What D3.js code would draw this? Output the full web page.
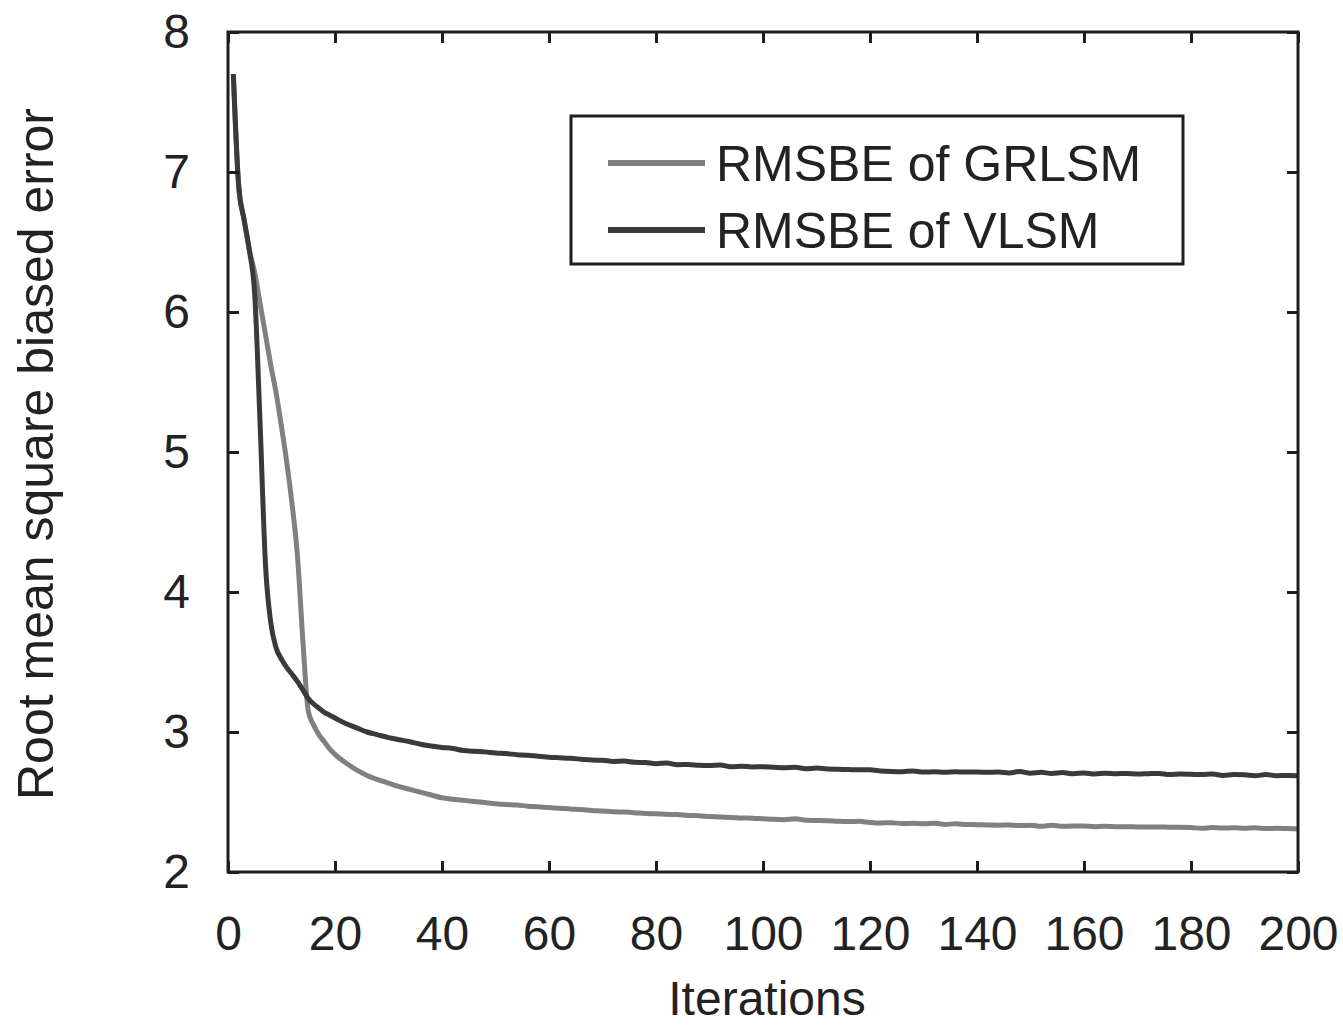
<!DOCTYPE html>
<html>
<head>
<meta charset="utf-8">
<script src="https://cdn.jsdelivr.net/npm/d3@7"></script>
<style>
  html, body { margin: 0; padding: 0; background: #fff; }
  svg text { font-family: "Liberation Sans", Arial, Helvetica, sans-serif; fill: #222; }
</style>
</head>
<body>
<svg id="chart" width="1343" height="1027"></svg>
<script>
// Iteration grid: every iteration up to 20, then every second iteration
const iterations = d3.range(1, 21).concat(d3.range(22, 201, 2));

// Root mean square biased error per iteration
const grlsm = [
  7.70, 6.90, 6.66, 6.44, 6.28, 6.06, 5.84, 5.62, 5.42, 5.18,
  4.92, 4.62, 4.25, 3.65, 3.15, 3.05, 2.98, 2.93, 2.88, 2.84,
  2.78, 2.73, 2.69, 2.66, 2.635, 2.61, 2.59, 2.57, 2.55,
  2.530, 2.520, 2.512, 2.504, 2.496, 2.488, 2.482, 2.478, 2.470, 2.466,
  2.460, 2.456, 2.450, 2.446, 2.440, 2.436, 2.430, 2.428, 2.424, 2.418,
  2.416, 2.412, 2.410, 2.404, 2.402, 2.396, 2.392, 2.390, 2.386, 2.384,
  2.380, 2.376, 2.374, 2.380, 2.370, 2.368, 2.366, 2.362, 2.360, 2.362,
  2.354, 2.350, 2.352, 2.346, 2.348, 2.344, 2.348, 2.340, 2.344, 2.340,
  2.338, 2.336, 2.334, 2.336, 2.332, 2.334, 2.326, 2.334, 2.326, 2.328,
  2.328, 2.324, 2.326, 2.324, 2.324, 2.322, 2.322, 2.322, 2.320, 2.320,
  2.318, 2.312, 2.318, 2.314, 2.316, 2.312, 2.316, 2.310, 2.312, 2.310,
  2.308
];

const vlsm = [
  7.70, 6.90, 6.66, 6.44, 6.12, 5.20, 4.20, 3.78, 3.60, 3.52,
  3.46, 3.41, 3.36, 3.30, 3.24, 3.20, 3.17, 3.14, 3.12, 3.10,
  3.06, 3.03, 3.00, 2.98, 2.96, 2.945, 2.93, 2.912, 2.90,
  2.890, 2.882, 2.868, 2.862, 2.858, 2.850, 2.846, 2.838, 2.834, 2.826,
  2.820, 2.816, 2.812, 2.806, 2.800, 2.798, 2.790, 2.792, 2.784, 2.782,
  2.774, 2.778, 2.766, 2.768, 2.762, 2.760, 2.765, 2.752, 2.756, 2.750,
  2.752, 2.748, 2.744, 2.748, 2.738, 2.742, 2.736, 2.734, 2.732, 2.730,
  2.730, 2.722, 2.718, 2.716, 2.722, 2.714, 2.716, 2.712, 2.716, 2.714,
  2.714, 2.712, 2.714, 2.708, 2.718, 2.706, 2.712, 2.704, 2.710, 2.702,
  2.708, 2.700, 2.706, 2.702, 2.704, 2.700, 2.702, 2.704, 2.696, 2.700,
  2.698, 2.696, 2.700, 2.690, 2.696, 2.694, 2.688, 2.696, 2.688, 2.690,
  2.688
];

const xTicks = [0, 20, 40, 60, 80, 100, 120, 140, 160, 180, 200];
const yTicks = [2, 3, 4, 5, 6, 7, 8];

const seriesNames = ["RMSBE of GRLSM", "RMSBE of VLSM"];
const seriesColors = ["#808080", "#3a3a3a"];

const svg = d3.select("#chart");
const plotLeft = 228, plotRight = 1298, plotTop = 32, plotBottom = 872;

const x = d3.scaleLinear().domain([0, 200]).range([plotLeft, plotRight]);
const y = d3.scaleLinear().domain([2, 8]).range([plotBottom, plotTop]);

const axisColor = "#1e1e1e";
const tickLen = 11;

// Curves (clipped to the axes box)
svg.append("clipPath").attr("id", "plotClip")
  .append("rect").attr("x", plotLeft).attr("y", plotTop)
  .attr("width", plotRight - plotLeft).attr("height", plotBottom - plotTop);

const line = d3.line().curve(d3.curveMonotoneX).x(d => x(d[0])).y(d => y(d[1]));
const series = [grlsm, vlsm];
series.forEach((vals, i) => {
  svg.append("path")
    .datum(iterations.map((it, k) => [it, vals[k]]))
    .attr("d", line)
    .attr("fill", "none")
    .attr("stroke", seriesColors[i])
    .attr("stroke-width", 5)
    .attr("stroke-linejoin", "round")
    .attr("clip-path", "url(#plotClip)");
});

// Axes: bottom/left with labels, top/right mirrored ticks only
function styleAxis(g) {
  g.select(".domain").remove();
  g.selectAll(".tick line").attr("stroke", axisColor).attr("stroke-width", 3);
  g.selectAll(".tick text").attr("font-size", 48).attr("fill", "#222");
}

svg.append("g").attr("transform", `translate(0,${plotBottom})`)
  .call(d3.axisBottom(x).tickValues(xTicks).tickSize(-tickLen).tickPadding(44).tickFormat(d3.format("d")))
  .call(styleAxis);

svg.append("g").attr("transform", `translate(${plotLeft},0)`)
  .call(d3.axisLeft(y).tickValues(yTicks).tickSize(-tickLen).tickPadding(38).tickFormat(d3.format("d")))
  .call(styleAxis);

svg.append("g").attr("transform", `translate(0,${plotTop})`)
  .call(d3.axisTop(x).tickValues(xTicks).tickSize(-tickLen).tickFormat(""))
  .call(styleAxis);

svg.append("g").attr("transform", `translate(${plotRight},0)`)
  .call(d3.axisRight(y).tickValues(yTicks).tickSize(-tickLen).tickFormat(""))
  .call(styleAxis);

svg.append("rect")
  .attr("x", plotLeft).attr("y", plotTop)
  .attr("width", plotRight - plotLeft).attr("height", plotBottom - plotTop)
  .attr("fill", "none").attr("stroke", axisColor).attr("stroke-width", 3);

// Axis titles
svg.append("text")
  .attr("x", (plotLeft + plotRight) / 2 + 4).attr("y", 1015)
  .attr("text-anchor", "middle").attr("font-size", 48)
  .text("Iterations");

svg.append("text")
  .attr("transform", `translate(53,${(plotTop + plotBottom) / 2 + 2}) rotate(-90)`)
  .attr("text-anchor", "middle").attr("font-size", 50)
  .text("Root mean square biased error");

// Legend
const legend = svg.append("g");
legend.append("rect")
  .attr("x", 571).attr("y", 116).attr("width", 612).attr("height", 148)
  .attr("fill", "#fff").attr("stroke", axisColor).attr("stroke-width", 3);
const legendRows = [163, 230];
seriesNames.forEach((name, i) => {
  legend.append("line")
    .attr("x1", 608).attr("x2", 705)
    .attr("y1", legendRows[i]).attr("y2", legendRows[i])
    .attr("stroke", seriesColors[i]).attr("stroke-width", 6);
  legend.append("text")
    .attr("x", 716).attr("y", legendRows[i] + 18)
    .attr("font-size", 50)
    .text(name);
});
</script>
</body>
</html>
